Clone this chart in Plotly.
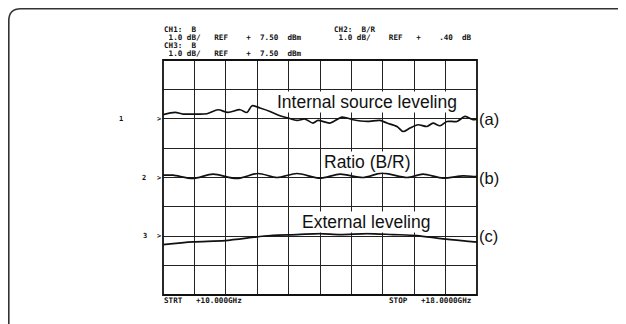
import plotly.graph_objects as go

# ---------------- data ----------------
freq_a = [10.0, 10.306, 10.51, 10.764, 11.121, 11.401, 11.656, 11.962, 12.140, 12.268,
          12.471, 12.726, 12.981, 13.185, 13.414, 13.618, 13.822, 13.949, 14.255, 14.561,
          14.841, 15.197, 15.529, 15.707, 15.962, 16.115, 16.293, 16.497, 16.726, 16.879,
          17.057, 17.236, 17.490, 17.694, 17.898, 18.0]
db_a = [0.137, 0.215, 0.16, 0.16, 0.17, 0.307, 0.215, 0.307, 0.215, 0.444,
        0.365, 0.249, 0.102, 0.024, -0.058, -0.01, -0.147, -0.058, -0.147, 0.058,
        -0.034, -0.092, -0.058, -0.147, -0.263, -0.433, -0.317, -0.205, -0.263, -0.147,
        -0.239, -0.092, -0.092, 0.078, -0.034, -0.01]

freq_b = [10.0, 10.255, 10.764, 11.274, 11.885, 12.420, 12.904, 13.414, 14.0, 14.510,
          15.096, 15.580, 16.217, 16.624, 17.134, 17.643, 17.949, 18.0]
db_b = [0.078, 0.078, -0.034, 0.113, -0.034, 0.137, 0.0, 0.137, -0.024, 0.113,
        0.0, 0.147, 0.0, 0.113, -0.024, 0.055, 0.034, 0.04]

freq_c = [10.0, 10.764, 11.580, 12.395, 12.803, 13.414, 14.0, 14.510, 15.197, 15.860,
          16.471, 17.134, 17.949, 18.0]
db_c = [-0.283, -0.191, -0.147, -0.02, 0.034, 0.058, 0.092, 0.058, 0.092, 0.058,
        0.024, -0.089, -0.191, -0.20]

ref_levels = [6, 4, 2]          # reference line positions (divisions)
ref_names = ["1", "2", "3"]
trace_tags = ["(a)", "(b)", "(c)"]
trace_titles = ["Internal source leveling", "Ratio (B/R)", "External leveling"]

ch1_line1, ch1_line2 = "CH1:  B", " 1.0 dB/   REF    +  7.50  dBm"
ch3_line1, ch3_line2 = "CH3:  B", " 1.0 dB/   REF    +  7.50  dBm"
ch2_line1, ch2_line2 = "CH2:  B/R", " 1.0 dB/    REF   +    .40  dB"
start_label, stop_label = "STRT   +10.000GHz", "STOP   +18.0000GHz"

# ---------------- layout helpers ----------------
OFF = 8                      # page body margin of the browser
W, H = 626 - OFF, 324 - OFF
L, R, T, B = 163 - OFF, 477 - OFF, 60 - OFF, 295 - OFF

def px(x):   # screen x -> paper
    return (x - OFF - L) / (R - L)

def py(y):   # screen y -> paper
    return (B - (y - OFF)) / (B - T)

def nb(s):
    return s.replace(" ", "\u00a0")

fig = go.Figure()
for f, d, off in [(freq_a, db_a, ref_levels[0]), (freq_b, db_b, ref_levels[1]), (freq_c, db_c, ref_levels[2])]:
    fig.add_trace(go.Scatter(x=f, y=[v + off for v in d], mode="lines",
                             line=dict(color="#111", width=1.7, shape="spline", smoothing=0.8),
                             hoverinfo="skip", showlegend=False))

annotations = []
mono = dict(family="DejaVu Sans Mono", size=7.6, color="#111")
def header(text, x, y):
    annotations.append(dict(text="<b>" + nb(text) + "</b>", x=px(x), y=py(y), xref="paper", yref="paper",
                            xanchor="left", yanchor="middle", showarrow=False, borderpad=0, font=mono))

header(ch1_line1, 163, 29.5)
header(ch1_line2, 163, 37.5)
header(ch3_line1, 163, 45.5)
header(ch3_line2, 163, 53)
header(ch2_line1, 333, 29.5)
header(ch2_line2, 333, 37.5)
header(start_label, 163, 300)
header(stop_label, 388, 300)

# reference markers
small = dict(family="DejaVu Sans Mono", size=7, color="#111")
for name, lvl, xn in zip(ref_names, ref_levels, [121, 144, 145]):
    annotations.append(dict(text="<b>" + name + "</b>", x=px(xn), y=lvl, xref="paper", yref="y",
                            xanchor="center", yanchor="middle", showarrow=False, font=small))
    annotations.append(dict(text="<b>&gt;</b>", x=px(158.5), y=lvl, xref="paper", yref="y",
                            xanchor="center", yanchor="middle", showarrow=False, font=small))

# trace tags
for tag, lvl in zip(trace_tags, ref_levels):
    annotations.append(dict(text=tag, x=px(477.5), y=lvl, xref="paper", yref="y",
                            xanchor="left", yanchor="middle", showarrow=False, borderpad=0,
                            font=dict(family="Liberation Sans", size=16.5, color="#111")))

# titles
title_pos = [(366.5, 101.5), (367.5, 161.5), (366, 221.5)]
for t, (tx, ty) in zip(trace_titles, title_pos):
    annotations.append(dict(text=t, x=px(tx), y=py(ty), xref="paper", yref="paper",
                            xanchor="center", yanchor="middle", showarrow=False,
                            bgcolor="white", borderpad=0,
                            font=dict(family="Liberation Sans", size=17.5, color="#111")))

# outer frame (top and left edges with rounded corner)
fx, fy, rad = 8.8, 8.8, 12
frame = (f"M {px(fx)} {py(330)} L {px(fx)} {py(fy + rad)} "
         f"Q {px(fx)} {py(fy)} {px(fx + rad)} {py(fy)} L {px(640)} {py(fy)}")
shapes = [dict(type="path", path=frame, xref="paper", yref="paper",
               line=dict(color="#333", width=1.6)),
          dict(type="rect", x0=0, x1=1, y0=0, y1=1, xref="paper", yref="paper",
               line=dict(color="#111", width=1.8))]

fig.update_layout(
    width=W, height=H,
    margin=dict(l=L, r=W - R, t=T, b=H - B),
    paper_bgcolor="white", plot_bgcolor="white",
    xaxis=dict(range=[10, 18], dtick=0.8, tick0=10, showgrid=True, gridcolor="#222", gridwidth=1,
               showticklabels=False, zeroline=False, ticks="", showline=False),
    yaxis=dict(range=[0, 8], dtick=1, tick0=0, showgrid=True, gridcolor="#222", gridwidth=1,
               showticklabels=False, zeroline=False, ticks="", showline=False),
    annotations=annotations, shapes=shapes,
)
fig.write_html("out.html")
